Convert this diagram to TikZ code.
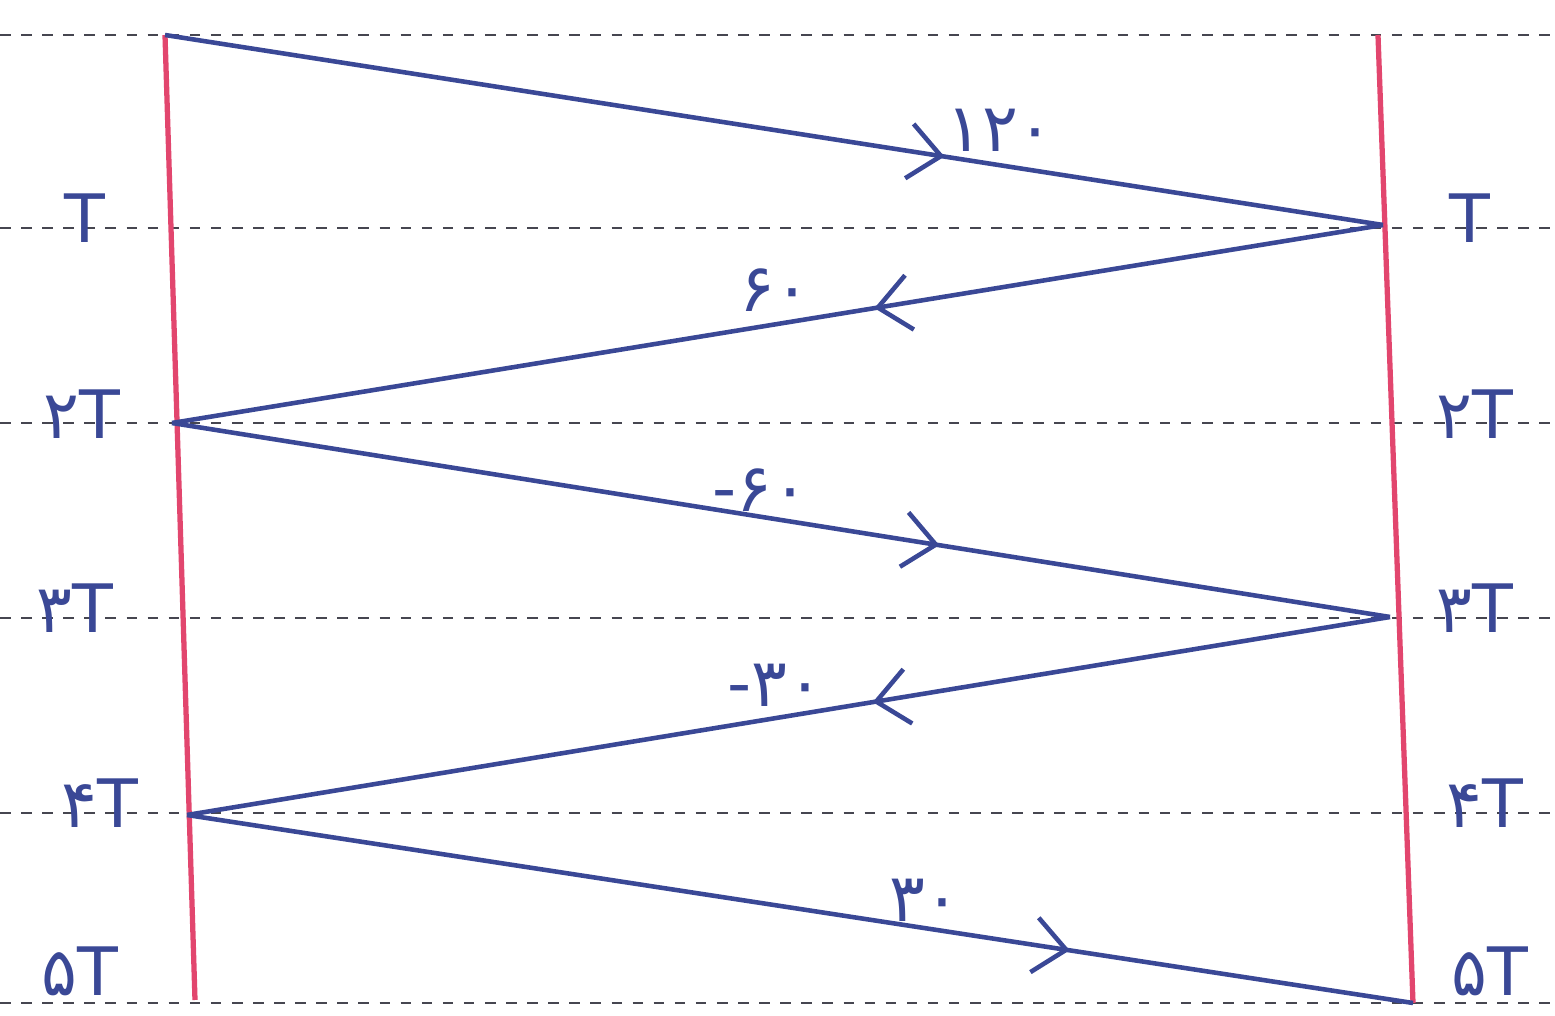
\documentclass[tikz,border=0pt]{standalone}
\usepackage{fontspec}
\usepackage{tikz}
\usetikzlibrary{arrows.meta, decorations.markings}
\newfontfamily\fadigits{DejaVu Sans}
\definecolor{wallred}{RGB}{226, 70, 110}
\definecolor{penblue}{RGB}{58, 72, 150}
\definecolor{ruleline}{RGB}{70, 70, 80}

\begin{document}
\begin{tikzpicture}[
    every node/.style={font=\fadigits\fontsize{19}{22}\selectfont, text=penblue},
    wall/.style={draw=wallred, line width=1.5pt},
    wave/.style={draw=penblue, line width=1.3pt},
    wavearrow/.style={postaction={decorate, decoration={markings,
        mark=at position #1 with {\arrow[penblue, line width=1.3pt]{Straight Barb[length=3.2mm, width=5.5mm]}}}}},
    gridline/.style={draw=ruleline, dashed, line width=0.6pt}
]
\useasboundingbox (0,0) rectangle (15.55,10.16);

% time lines
\foreach \ypos in {9.81, 7.88, 5.93, 3.98, 2.03, 0.13} {
    \draw[gridline] (0,\ypos) -- (15.55,\ypos);
}

% side labels
\foreach \lab/\xl/\xr/\ypos in {T/0.85/14.70/7.98, ۲T/0.82/14.75/6.02, ۳T/0.75/14.75/4.08, ۴T/1.00/14.85/2.13, ۵T/0.80/14.90/0.45} {
    \node at (\xl,\ypos) {\lab};
    \node at (\xr,\ypos) {\lab};
}

% walls
\coordinate (lefttop) at (1.65,9.81);
\coordinate (leftbot) at (1.95,0.16);
\coordinate (righttop) at (13.78,9.81);
\coordinate (rightbot) at (14.13,0.13);
\draw[wall] (lefttop) -- (leftbot);
\draw[wall] (righttop) -- (rightbot);

% reflection points
\coordinate (l1) at (1.65,9.81);
\coordinate (r1) at (13.83,7.91);
\coordinate (l2) at (1.72,5.93);
\coordinate (r2) at (13.90,3.99);
\coordinate (l3) at (1.87,2.01);
\coordinate (r3) at (14.13,0.13);

\draw[wave, wavearrow=0.64] (l1) -- (r1);
\draw[wave, wavearrow=0.42] (r1) -- (l2);
\draw[wave, wavearrow=0.63] (l2) -- (r2);
\draw[wave, wavearrow=0.43] (r2) -- (l3);
\draw[wave, wavearrow=0.72] (l3) -- (r3);

% amplitudes
\node (a1) at (10.00,8.86) {۱۲۰};
\node (a2) at (7.75,7.26) {۶۰};
\node (a3) at (7.60,5.26) {-۶۰};
\node (a4) at (7.75,3.31) {-۳۰};
\node (a5) at (9.25,1.16) {۳۰};

\end{tikzpicture}
\end{document}
